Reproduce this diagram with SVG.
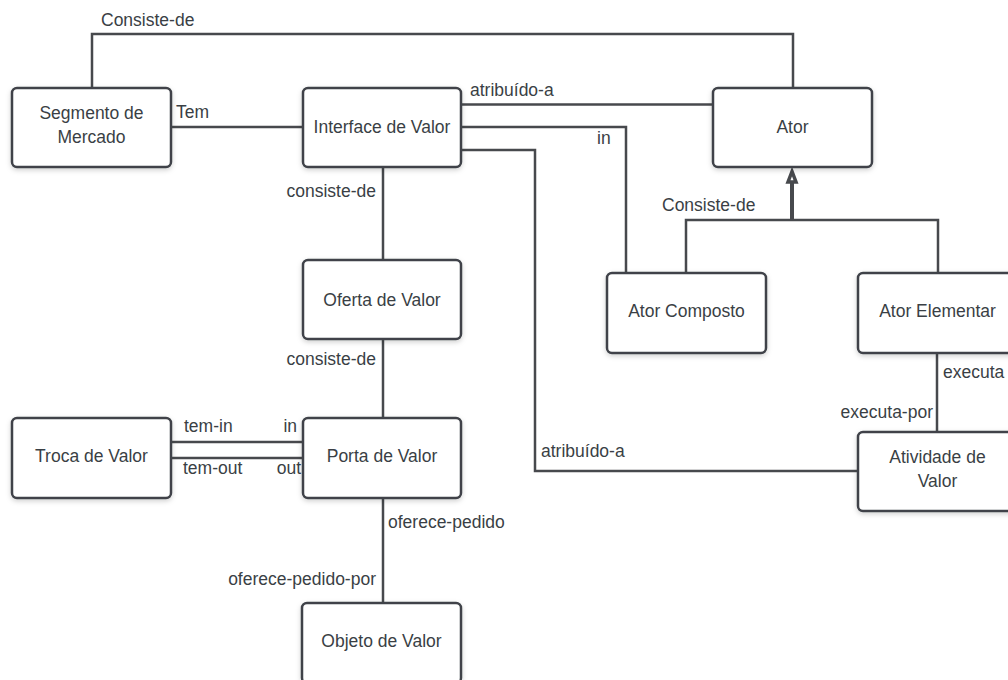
<svg xmlns="http://www.w3.org/2000/svg" width="1008" height="680" viewBox="0 0 1008 680">
  <defs>
    <filter id="shadow" x="-10%" y="-10%" width="120%" height="130%">
      <feDropShadow dx="0" dy="2" stdDeviation="2.5" flood-color="#000" flood-opacity="0.18"/>
    </filter>
    <style>
      .box { fill: #ffffff; stroke: #3f4349; stroke-width: 2.5; filter: url(#shadow); }
      .node-text { font-family: "Liberation Sans", Arial, sans-serif; font-size: 17.5px; fill: #3a3f45; text-anchor: middle; }
      .label { font-family: "Liberation Sans", Arial, sans-serif; font-size: 17.5px; fill: #3a3f45; }
      .wire { fill: none; stroke: #47494d; stroke-width: 2.5; }
      .thick { fill: none; stroke: #47494d; stroke-width: 4; }
    </style>
  </defs>
  <rect width="1008" height="680" fill="#ffffff"/>

  <!-- connectors -->
  <g id="connectors">
    <polyline class="wire" points="92,88 92,34 793,34 793,88"/>
    <line class="wire" x1="171" y1="127" x2="303" y2="127"/>
    <line class="wire" x1="461" y1="104.5" x2="713" y2="104.5"/>
    <polyline class="wire" points="461,127 626,127 626,273"/>
    <polyline class="wire" points="461,150 535,150 535,471 858,471"/>
    <line class="wire" x1="383" y1="167" x2="383" y2="260"/>
    <line class="wire" x1="383" y1="339" x2="383" y2="418"/>
    <line class="wire" x1="171" y1="442" x2="303" y2="442"/>
    <line class="wire" x1="171" y1="458" x2="303" y2="458"/>
    <line class="wire" x1="383" y1="498" x2="383" y2="603"/>
    <polyline class="wire" points="686,273 686,220 938,220 938,273"/>
    <line class="thick" x1="792" y1="220" x2="792" y2="182"/>
    <polygon points="792,171.5 788,182 796,182" fill="#ffffff" stroke="#47494d" stroke-width="3.5" stroke-linejoin="miter"/>
    <line class="wire" x1="937" y1="353" x2="937" y2="432"/>

    <text class="label" x="101" y="26">Consiste-de</text>
    <text class="label" x="176" y="118">Tem</text>
    <text class="label" x="470" y="96">atribuído-a</text>
    <text class="label" x="597" y="144">in</text>
    <text class="label" x="376" y="197" text-anchor="end">consiste-de</text>
    <text class="label" x="662" y="211">Consiste-de</text>
    <text class="label" x="376" y="365" text-anchor="end">consiste-de</text>
    <text class="label" x="943" y="378">executa</text>
    <text class="label" x="933" y="418" text-anchor="end">executa-por</text>
    <text class="label" x="541" y="457">atribuído-a</text>
    <text class="label" x="184" y="432">tem-in</text>
    <text class="label" x="297" y="432" text-anchor="end">in</text>
    <text class="label" x="183" y="474">tem-out</text>
    <text class="label" x="301" y="474" text-anchor="end">out</text>
    <text class="label" x="388" y="528">oferece-pedido</text>
    <text class="label" x="376" y="585" text-anchor="end">oferece-pedido-por</text>
  </g>

  <g id="segmento-de-mercado">
    <rect class="box" x="12" y="88" width="159" height="79" rx="5"/>
    <text class="node-text" x="91.5" y="119">Segmento de</text>
    <text class="node-text" x="91.5" y="143">Mercado</text>
  </g>
  <g id="interface-de-valor">
    <rect class="box" x="303" y="88" width="158" height="79" rx="5"/>
    <text class="node-text" x="382" y="133">Interface de Valor</text>
  </g>
  <g id="ator">
    <rect class="box" x="713" y="88" width="159" height="79" rx="5"/>
    <text class="node-text" x="792.5" y="133">Ator</text>
  </g>
  <g id="oferta-de-valor">
    <rect class="box" x="303" y="260" width="158" height="79" rx="5"/>
    <text class="node-text" x="382" y="306">Oferta de Valor</text>
  </g>
  <g id="ator-composto">
    <rect class="box" x="607" y="273" width="159" height="80" rx="5"/>
    <text class="node-text" x="686.5" y="317">Ator Composto</text>
  </g>
  <g id="ator-elementar">
    <rect class="box" x="858" y="273" width="159" height="80" rx="5"/>
    <text class="node-text" x="937.5" y="317">Ator Elementar</text>
  </g>
  <g id="troca-de-valor">
    <rect class="box" x="12" y="418" width="159" height="80" rx="5"/>
    <text class="node-text" x="91.5" y="462">Troca de Valor</text>
  </g>
  <g id="porta-de-valor">
    <rect class="box" x="303" y="418" width="158" height="80" rx="5"/>
    <text class="node-text" x="382" y="462">Porta de Valor</text>
  </g>
  <g id="atividade-de-valor">
    <rect class="box" x="858" y="432" width="159" height="79" rx="5"/>
    <text class="node-text" x="937.5" y="463">Atividade de</text>
    <text class="node-text" x="937.5" y="487">Valor</text>
  </g>
  <g id="objeto-de-valor">
    <rect class="box" x="302" y="603" width="159" height="80" rx="5"/>
    <text class="node-text" x="381.5" y="647">Objeto de Valor</text>
  </g>
</svg>
